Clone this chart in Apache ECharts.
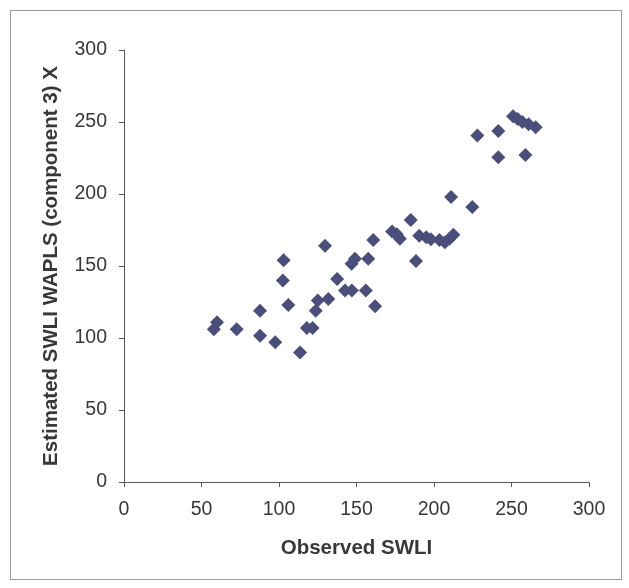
<!DOCTYPE html>
<html>
<head>
<meta charset="utf-8">
<script src="https://cdn.jsdelivr.net/npm/echarts@6/dist/echarts.min.js"></script>
<style>
  html, body { margin: 0; padding: 0; background: #fff; }
  #frame { position: absolute; left: 10px; top: 10px; width: 612px; height: 570px; border: 1px solid #9a9a9a; box-sizing: border-box; }
  #chart { position: absolute; left: 0; top: 0; width: 629px; height: 588px; }
</style>
</head>
<body>
<div id="frame"></div>
<div id="chart"></div>
<script>
// Observed SWLI vs. WA-PLS (component 3) estimates
const observed = [58, 60, 72.7, 87.8, 87.8, 97.6, 103, 102.5, 106, 113.6,
  118, 121.7, 123.7, 125, 131.8, 129.7, 137.5, 142.6, 147, 146.8,
  149, 156, 157.6, 160.8, 162, 173, 176, 178, 185, 188.4,
  190.5, 195, 198, 203.5, 207, 210, 212.5, 211, 224.7, 228,
  241.5, 241.5, 251, 254, 257, 259, 261, 265.6];
const estimated = [106, 111, 106, 119, 101.5, 97, 154, 140, 123, 90,
  107, 107, 119, 126, 127, 164, 141, 133, 133, 151.5,
  155, 133, 155, 168, 122, 174, 172, 169, 182, 153.5,
  171, 170, 168.6, 168, 166.5, 169, 171.7, 198, 191, 240.7,
  243.8, 225.6, 254, 252, 250, 227, 248.5, 246.4];
const xTicks = [0, 50, 100, 150, 200, 250, 300];
const yTicks = [0, 50, 100, 150, 200, 250, 300];

const points = observed.map((x, i) => [x, estimated[i]]);
const font = '"Liberation Sans", Arial, sans-serif';
const axisCol = '#5a5a5a';
const textCol = '#383838';

const chart = echarts.init(document.getElementById('chart'), null, { renderer: 'canvas' });
chart.setOption({
  animation: false,
  backgroundColor: 'transparent',
  grid: { left: 124, right: 40, top: 50, bottom: 106, containLabel: false },
  xAxis: {
    type: 'value',
    min: xTicks[0], max: xTicks[xTicks.length - 1], interval: xTicks[1] - xTicks[0],
    name: 'Observed SWLI', nameLocation: 'middle', nameGap: 56,
    nameTextStyle: { fontFamily: font, fontSize: 20.5, fontWeight: 'bold', color: textCol },
    axisLine: { lineStyle: { color: axisCol, width: 1 } },
    axisTick: { show: true, length: 5, inside: false, lineStyle: { color: axisCol } },
    axisLabel: { fontFamily: font, fontSize: 19.5, color: textCol, margin: 18 },
    splitLine: { show: false }
  },
  yAxis: {
    type: 'value',
    min: yTicks[0], max: yTicks[yTicks.length - 1], interval: yTicks[1] - yTicks[0],
    name: 'Estimated SWLI WAPLS (component 3) X', nameLocation: 'middle', nameGap: 62,
    nameTextStyle: { fontFamily: font, fontSize: 20.5, fontWeight: 'bold', color: textCol },
    axisLine: { show: true, lineStyle: { color: axisCol, width: 1 } },
    axisTick: { show: true, length: 5, inside: false, lineStyle: { color: axisCol } },
    axisLabel: { fontFamily: font, fontSize: 19.5, color: textCol, margin: 17 },
    splitLine: { show: false }
  },
  series: [{
    type: 'scatter',
    symbol: 'diamond',
    symbolSize: 14,
    itemStyle: { color: '#4a4e7a', opacity: 1 },
    data: points
  }]
});
</script>
</body>
</html>
